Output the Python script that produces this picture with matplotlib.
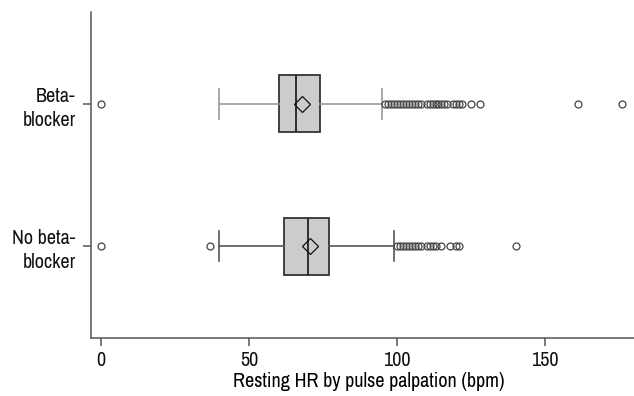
import matplotlib
matplotlib.use("Agg")
import matplotlib.pyplot as plt
from matplotlib import font_manager

names = sorted({f.name for f in font_manager.fontManager.ttflist})
narrow = [n for n in names if ("Narrow" in n or "Condensed" in n)]
fam = narrow[0] if narrow else "Liberation Sans"
plt.rcParams['font.family'] = [fam, 'DejaVu Sans']
fs = 14.5 if narrow else 13.5

groups = ["No beta-\nblocker", "Beta-\nblocker"]
whislo = [40, 40]
q1 = [62, 60]
med = [70, 66]
mean = [70.6, 67.8]
q3 = [77, 74]
whishi = [99, 95]
fliers_no = [0, 37, 100, 101, 102, 103, 104, 105, 106, 107, 108, 110, 111, 112, 113,
             115, 118, 120, 121, 140]
fliers_beta = [0, 96, 97, 98, 99, 100, 101, 102, 103, 104, 105, 106, 107, 108,
               110, 111, 112, 113, 114, 115, 116, 117, 119, 120, 121, 122, 125, 128,
               161, 176]
fliers = [fliers_no, fliers_beta]
xticks = [0, 50, 100, 150]
xlabel = "Resting HR by pulse palpation (bpm)"

fig = plt.figure(figsize=(6.34, 3.96), dpi=100)
ax = fig.add_axes([91/634, 58/396, 1 - 91/634, 326/396])

whisker_colors = ["#555555", "#999999"]
for i in range(2):
    st = [dict(whislo=whislo[i], q1=q1[i], med=med[i], mean=mean[i], q3=q3[i],
               whishi=whishi[i], fliers=fliers[i], label=groups[i])]
    ax.bxp(st, positions=[i], widths=0.4, vert=False, patch_artist=True,
           showmeans=True, showfliers=True,
           boxprops=dict(facecolor="#cccccc", edgecolor="#333333", linewidth=1.3),
           medianprops=dict(color="#222222", linewidth=1.3),
           whiskerprops=dict(color=whisker_colors[i], linewidth=1.2),
           capprops=dict(color=whisker_colors[i], linewidth=1.2),
           capwidths=0.21,
           meanprops=dict(marker="D", markerfacecolor="none", markeredgecolor="#111111",
                          markersize=8, markeredgewidth=0.9),
           flierprops=dict(marker="o", markerfacecolor="none", markeredgecolor="#444444",
                           markersize=5, markeredgewidth=0.9))

ax.set_xlim(-3.3, 180)
ax.set_ylim(-0.645, 1.645)
ax.set_xticks(xticks)
ax.set_xticklabels([str(t) for t in xticks])
ax.set_yticks([0, 1])
ax.set_yticklabels(groups, ha="right", multialignment="right", linespacing=1.35)
ax.set_xlabel(xlabel, fontsize=fs)
ax.xaxis.set_label_coords(0.511, -0.132)
ax.xaxis.label.set_va("center")
for s in ["top", "right"]:
    ax.spines[s].set_visible(False)
for s in ["left", "bottom"]:
    ax.spines[s].set_color("#555555")
    ax.spines[s].set_linewidth(1.1)
ax.tick_params(axis="both", colors="#555555", labelcolor="#111111", labelsize=fs,
               length=6, width=1.1)
ax.tick_params(axis="x", pad=3)
ax.tick_params(axis="y", pad=5)
ax.set_facecolor("white")
fig.savefig("out.png", dpi=100)
